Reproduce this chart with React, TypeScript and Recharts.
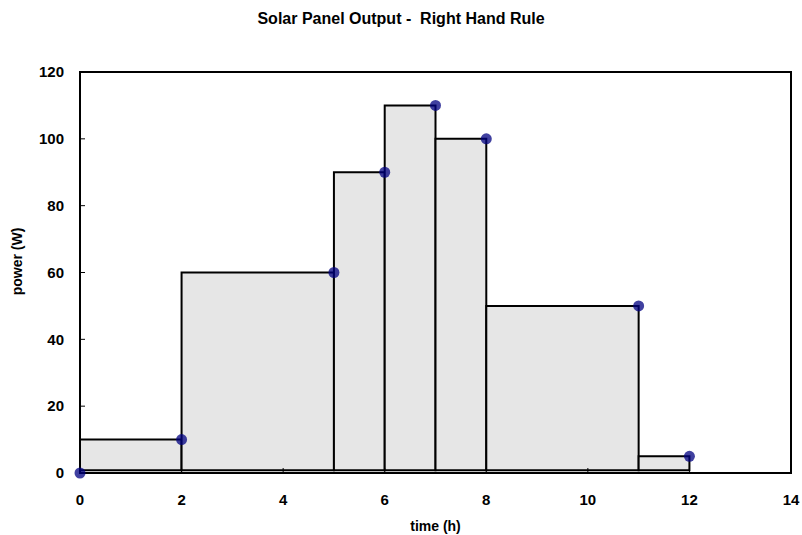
import {
  ComposedChart,
  XAxis,
  YAxis,
  Scatter,
  ReferenceArea,
  Label,
} from "recharts"

const times = [0, 2, 5, 6, 7, 8, 11, 12]
const power = [0, 10, 60, 90, 110, 100, 50, 5]
const xTicks = [0, 2, 4, 6, 8, 10, 12, 14]
const yTicks = [0, 20, 40, 60, 80, 100, 120]
const rectBase = 0.8

const points = times.map((t, i) => ({ time: t, power: power[i] }))

// right hand rule: each interval takes the value at its right end
const rects = times.slice(1).map((t, i) => ({ x1: times[i], x2: t, h: power[i + 1] }))

const font = "'Liberation Sans', Arial, sans-serif"
const tickStyle = { fontSize: 15, fontWeight: 700, fill: "#000", fontFamily: font }

const Dot = (props: any) => (
  <circle cx={props.cx} cy={props.cy} r={5.5} fill="#000080" fillOpacity={0.75} />
)

const YLabel = ({ viewBox }: any) => {
  const x = viewBox.x + 21.5
  const y = viewBox.y + viewBox.height / 2 - 11
  return (
    <text
      x={x}
      y={y}
      transform={`rotate(-90, ${x}, ${y})`}
      textAnchor="middle"
      fontFamily={font}
      fontWeight={700}
      fontSize={14}
      fill="#000"
    >
      power (W)
    </text>
  )
}

export default function App() {
  return (
    <div style={{ position: "absolute", left: 0, top: 0, width: 802, height: 535, background: "#fff" }}>
      <div
        style={{
          position: "absolute",
          top: 10,
          width: 802,
          textAlign: "center",
          fontFamily: font,
          fontWeight: 700,
          fontSize: 16,
          whiteSpace: "pre",
        }}
      >
        Solar Panel Output -  Right Hand Rule
      </div>
      <ComposedChart
        width={802}
        height={535}
        data={points}
        margin={{ top: 72, right: 11, bottom: 0, left: 0 }}
      >
        <XAxis
          type="number"
          dataKey="time"
          domain={[0, 14]}
          ticks={xTicks}
          height={62}
          tick={tickStyle}
          tickSize={-5}
          tickMargin={26}
          axisLine={{ stroke: "#000", strokeWidth: 2 }}
          tickLine={{ stroke: "#000" }}
        >
          <Label value="time (h)" position="insideBottom" offset={4} style={{ ...tickStyle, fontSize: 14 }} />
        </XAxis>
        <YAxis
          type="number"
          domain={[0, 120]}
          ticks={yTicks}
          width={80}
          tick={tickStyle}
          tickSize={-5}
          tickMargin={21}
          axisLine={{ stroke: "#000", strokeWidth: 2 }}
          tickLine={{ stroke: "#000" }}
        >
          <Label content={YLabel} />
        </YAxis>
        <ReferenceArea x1={0} x2={14} y1={0} y2={120} fill="none" stroke="#000" strokeWidth={2} fillOpacity={0} />
        {rects.map((r, i) => (
          <ReferenceArea
            key={i}
            x1={r.x1}
            x2={r.x2}
            y1={rectBase}
            y2={r.h}
            fill="#e6e6e6"
            fillOpacity={1}
            stroke="#000"
            strokeWidth={2}
          />
        ))}
        <Scatter dataKey="power" shape={Dot} isAnimationActive={false} />
      </ComposedChart>
    </div>
  )
}
